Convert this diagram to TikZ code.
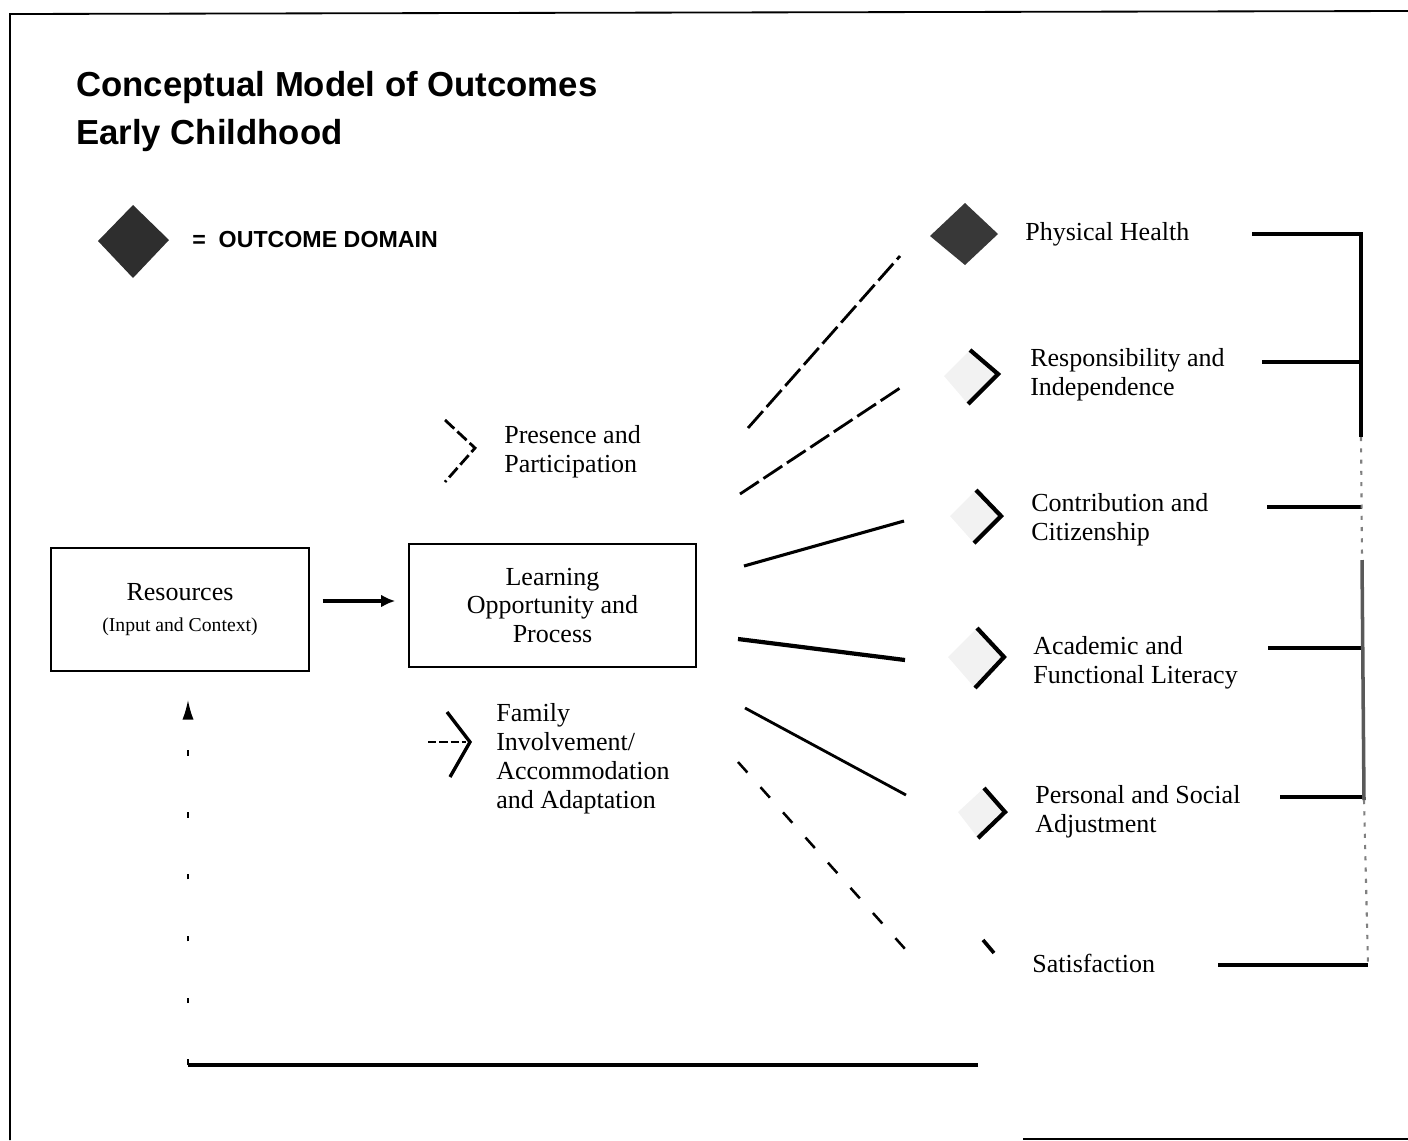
\documentclass[tikz,border=0pt]{standalone}
\usepackage{fontspec}
\setmainfont{Liberation Serif}
\newfontfamily\hv{Liberation Sans}
\usetikzlibrary{arrows.meta}
\tikzset{
  body/.style={font=\fontsize{18.5}{20.6}\selectfont, inner sep=0pt, align=left},
  ttl/.style={font=\hv\bfseries\fontsize{24.7}{34}\selectfont, inner sep=0pt},
  box/.style={draw, line width=1pt, align=center, inner sep=0pt,
     font=\fontsize{18.5}{20.6}\selectfont},
  frame/.style={line width=1.3pt},
  link/.style={line width=2.2pt},
  dlink/.style={line width=2pt, dash pattern=on 16pt off 4pt},
  brk/.style={line width=2.7pt},
  chev/.style={line width=3pt, line join=miter},
  light/.style={fill=gray!10},
}
\begin{document}
\begin{tikzpicture}[x=0.025cm, y=-0.025cm]
\useasboundingbox (0,0) rectangle (1408,1140);
% frame
\draw[frame] (1408,11) -- (10,14) -- (10,1140);
\draw[frame] (1023,1139) -- (1408,1139);
% title
\node[ttl, anchor=base west] (t1) at (76,96) {Conceptual Model of Outcomes};
\node[ttl, anchor=base west] (t2) at (76,144) {Early Childhood};
% legend
\fill[black!82] (98,241) -- (133,205) -- (169,240) -- (133,278) -- cycle;
\node[font=\hv\bfseries\fontsize{16.5}{20}\selectfont, inner sep=0pt, anchor=west] (leg) at (192,240) {=\ \ OUTCOME DOMAIN};
% boxes
\node[box, minimum width=6.45cm, minimum height=3.075cm] (res) at (180,609.5)
  {Resources\\[1pt]{\fontsize{14}{17}\selectfont (Input and Context)}};
\node[box, minimum width=7.175cm, minimum height=3.075cm] (learn) at (552.5,605.5)
  {Learning\\Opportunity and\\Process};
\draw[line width=2.8pt, -{Latex[length=10pt,width=9pt]}, shorten <=0.325cm, shorten >=0.325cm]
  (res.east |- 0,601) -- (learn.west |- 0,601);
% process chevrons
\draw[line width=2pt, dash pattern=on 9pt off 3pt, line join=miter] (445,420) -- (475,448) -- (445,482);
\node[body, anchor=west] (presence) at (504,451.5) {Presence and\\Participation};
\draw[line width=2.4pt, line join=miter] (447,712) -- (470,742) -- (450,777);
\draw[line width=1.3pt, dash pattern=on 6pt off 2pt] (428,742) -- (466,742);
\node[body, anchor=west] (family) at (496,759) {Family\\Involvement/\\Accommodation\\and Adaptation};
% outcome markers
\fill[black!78] (930,236) -- (965,203) -- (998,234) -- (965,265) -- cycle;
\coordinate (m1) at (930,236);
\fill[light] (944,376) -- (970,350) -- (998,374) -- (968,404) -- cycle;
\draw[chev] (970,350) -- (998,374) -- (968,404);
\coordinate (m2) at (944,376);
\fill[light] (950,516) -- (976,490) -- (1001,516) -- (974,543) -- cycle;
\draw[chev] (976,490) -- (1001,516) -- (974,543);
\coordinate (m3) at (950,516);
\fill[light] (948,657) -- (977,628) -- (1004,657) -- (975,688) -- cycle;
\draw[chev] (977,628) -- (1004,657) -- (975,688);
\coordinate (m4) at (948,657);
\fill[light] (958,812) -- (984,788) -- (1005,812) -- (978,838) -- cycle;
\draw[chev] (984,788) -- (1005,812) -- (978,838);
\coordinate (m5) at (958,812);
\draw[line width=2.6pt] (983,940) -- (994,953);
\coordinate (m6) at (983,940);
% outcome texts
\node[body, anchor=west] (o1) at (1025,234) {Physical Health};
\node[body, anchor=west] (o2) at (1030,374.5) {Responsibility and\\Independence};
\node[body, anchor=west] (o3) at (1031,519.5) {Contribution and\\Citizenship};
\node[body, anchor=west] (o4) at (1033,662.5) {Academic and\\Functional Literacy};
\node[body, anchor=west] (o5) at (1035,811.5) {Personal and Social\\Adjustment};
\node[body, anchor=west] (o6) at (1032,963) {Satisfaction};
% connectors from learning box to outcomes
\coordinate (s1) at (748,428); \coordinate (e1) at (900,256);
\coordinate (s2) at (740,494); \coordinate (e2) at (903,386);
\coordinate (s3) at (744,566); \coordinate (e3) at (904,521);
\coordinate (s4) at (738,639); \coordinate (e4) at (905,660);
\coordinate (s5) at (745,708); \coordinate (e5) at (906,795);
\coordinate (s6) at (738,762); \coordinate (e6) at (906,950);
\draw[dlink] (s1) -- (e1);
\draw[dlink] (s2) -- (e2);
\draw[link] (s3) -- (e3);
\draw[line width=3pt] (s4) -- (e4);
\draw[line width=2pt] (s5) -- (e5);
\draw[line width=1.8pt, dash pattern=on 10pt off 14pt] (s6) -- (e6);
% right bracket
\coordinate (b1s) at (1252,234); \coordinate (b1) at (1361,234);
\coordinate (b2s) at (1262,362); \coordinate (b2) at (1361,362);
\coordinate (b3s) at (1267,507); \coordinate (b3) at (1362,507);
\coordinate (b4s) at (1268,648); \coordinate (b4) at (1363,648);
\coordinate (b5s) at (1280,797); \coordinate (b5) at (1364,797);
\coordinate (b6s) at (1218,965); \coordinate (b6) at (1368,965);
\draw[brk] (b1s) -- (b1) -- (1361,437);
\draw[brk] (b2s) -- (b2);
\draw[brk] (b3s) -- (b3);
\draw[brk] (b4s) -- (b4);
\draw[brk] (b5s) -- (b5);
\draw[brk] (b6s) -- (b6);
\draw[line width=1.5pt, gray, dash pattern=on 3pt off 5pt] (1361,437) -- (1362,560);
\draw[line width=2.5pt, gray!70!black] (1362,560) -- (1364,800);
\draw[line width=1.5pt, gray, dash pattern=on 3pt off 5pt] (1364,800) -- (b6);
% feedback loop
\coordinate (fbr) at (978,1065);
\coordinate (fbl) at (188,1065);
\draw[line width=2.7pt] (fbr) -- (fbl);
\draw[line width=1.2pt, dash pattern=on 4pt off 40pt, -{Latex[length=14pt,width=8pt]}]
  (fbl) -- (fbl |- 0,700);
\end{tikzpicture}
\end{document}
